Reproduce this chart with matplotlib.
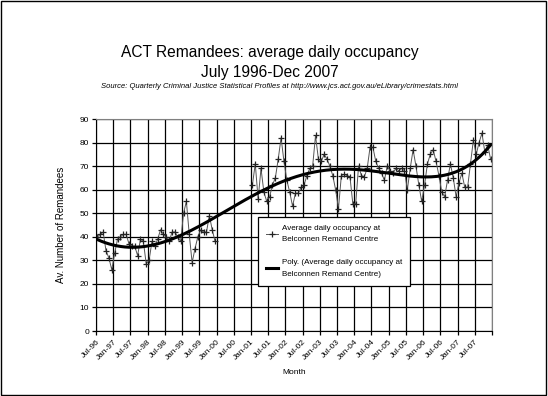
import numpy as np
import matplotlib
matplotlib.use("Agg")
import matplotlib.pyplot as plt
from matplotlib.patches import Rectangle

plt.rcParams['font.family'] = ['Liberation Sans', 'DejaVu Sans']

# monthly average daily occupancy, Jul-96 .. Dec-99
occupancy_9699 = [40, 41, 42, 34, 31, 26, 33, 39, 40, 41, 41, 37,
                  36, 36, 32, 39, 38, 28.5, 30, 38, 36, 39, 43, 41,
                  40, 38, 42, 42, 40, 38, 50, 55, 41, 29, 35, 40,
                  43, 42, 42, 49, 43, 38]
# no data Jan-00 .. Dec-00
gap_months = 12
# Jan-01 .. Dec-07
occupancy_0107 = [62, 71, 56, 69, 59, 55, 57, 62, 65, 73, 82, 72,
                  64, 59, 53, 58.5, 58.5, 61, 62, 66, 69, 70, 83, 73,
                  72, 75, 73, 70, 66, 60, 52, 66, 66.5, 66, 65.5, 54,
                  54, 70, 66, 65.5, 69, 78, 78, 72, 69, 67, 64, 70,
                  68, 67, 69, 68, 69, 68, 60, 69, 77, 70, 62, 55,
                  62, 71, 75, 77, 72, 66, 59, 57, 64, 71, 65, 57,
                  63, 67, 61, 61, 71, 81, 75, 80, 84, 76, 79, 73]

tick_labels = ['Jul-96', 'Jan-97', 'Jul-97', 'Jan-98', 'Jul-98', 'Jan-99',
               'Jul-99', 'Jan-00', 'Jul-00', 'Jan-01', 'Jul-01', 'Jan-02',
               'Jul-02', 'Jan-03', 'Jul-03', 'Jan-04', 'Jul-04', 'Jan-05',
               'Jul-05', 'Jan-06', 'Jul-06', 'Jan-07', 'Jul-07']

series_label = 'Average daily occupancy at\nBelconnen Remand Centre'
trend_label = 'Poly. (Average daily occupancy at\nBelconnen Remand Centre)'

values = np.array(occupancy_9699 + [np.nan] * gap_months + occupancy_0107, dtype=float)
n_months = len(values)
x = np.arange(n_months) + 0.5  # categories centred between ticks

# Excel style 6th order polynomial trendline over the non-blank points
ok = ~np.isnan(values)
poly = np.polynomial.Polynomial.fit(x[ok], values[ok], 6)
xs = np.linspace(0.5, n_months - 0.5, 400)

fig = plt.figure(figsize=(5.48, 3.96), dpi=100)
fig.patches.append(Rectangle((0.002, 0.003), 0.994, 0.994, transform=fig.transFigure,
                             fill=False, edgecolor='black', linewidth=1))

ax = fig.add_axes([96 / 548, 1 - 331 / 396, 396 / 548, 212 / 396])

ax.plot(x, values, color='#555555', linewidth=0.7, marker='+', markersize=4,
        markeredgewidth=0.9, markeredgecolor='#222222', label=series_label)
ax.plot(xs, poly(xs), color='black', linewidth=2.2, label=trend_label)

ax.set_xlim(0, n_months)
ax.set_ylim(0, 90)
ax.set_yticks(range(0, 91, 10))
ax.set_xticks(range(0, n_months + 1, 6))
ax.set_xticklabels(tick_labels + [''], rotation=45, ha='right', rotation_mode='anchor')
ax.grid(True, color='black', linewidth=0.9)
ax.set_axisbelow(True)

for side in ['top', 'right']:
    ax.spines[side].set_color('#808080')
for side in ['left', 'bottom']:
    ax.spines[side].set_color('black')
ax.tick_params(axis='both', labelsize=6, length=3, width=0.9, pad=2)

ax.set_ylabel('Av. Number of Remandees', fontsize=7, labelpad=10)
ax.set_xlabel('Month', fontsize=6, labelpad=6)

fig.text(0.492, 1 - 53 / 396, 'ACT Remandees: average daily occupancy',
         ha='center', va='center', fontsize=11.2)
fig.text(0.492, 1 - 72 / 396, 'July 1996-Dec 2007', ha='center', va='center', fontsize=11.2)
fig.text(0.51, 1 - 87 / 396,
         'Source: Quarterly Criminal Justice Statistical Profiles at http://www.jcs.act.gov.au/eLibrary/crimestats.html',
         ha='center', va='center', fontsize=5.5, style='italic')

leg = ax.legend(loc='upper left', bbox_to_anchor=(0.41, 0.54), fontsize=5.8,
                frameon=True, fancybox=False, framealpha=1, edgecolor='black',
                handlelength=1.5, handletextpad=0.4, labelspacing=2.0,
                borderpad=1.0, borderaxespad=0)
leg.get_frame().set_linewidth(0.9)
for t in leg.get_texts():
    t.set_linespacing(1.9)

fig.savefig('out.png', dpi=100)
